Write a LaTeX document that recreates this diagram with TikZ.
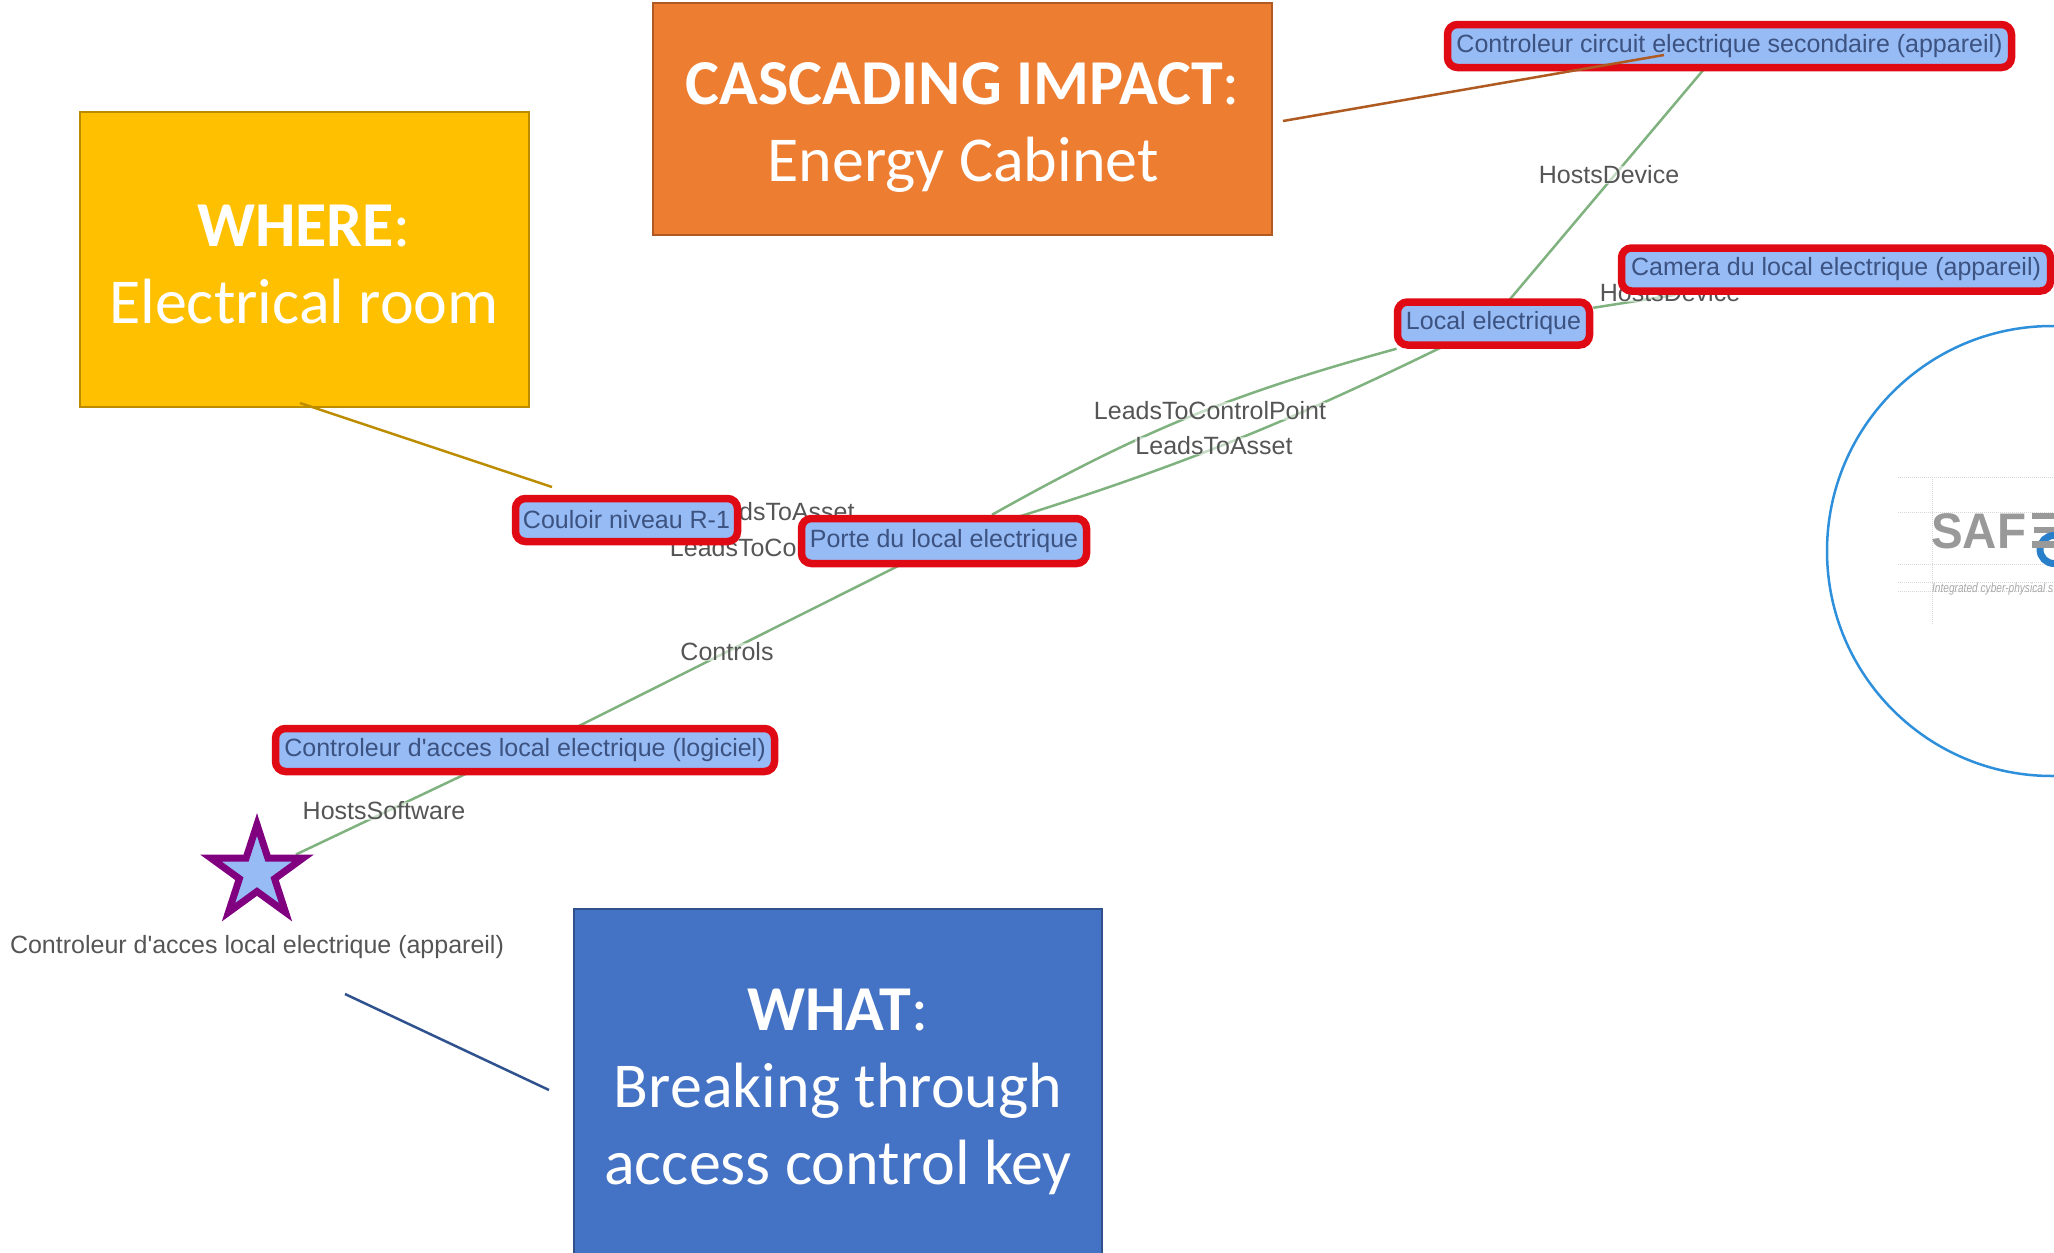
\documentclass[tikz,border=0pt]{standalone}
\usepackage{fontspec}
\setmainfont{Liberation Sans}
\newfontfamily\calloutfont{Carlito}
\usetikzlibrary{shapes.geometric,backgrounds}
\definecolor{nodefill}{HTML}{97BBF5}
\definecolor{noderim}{HTML}{E00A14}
\definecolor{nodetext}{HTML}{3C5280}
\definecolor{starrim}{HTML}{800080}
\definecolor{edgegreen}{HTML}{7FB27F}
\definecolor{labelgrey}{HTML}{555555}
\definecolor{whereface}{HTML}{FFC000}
\definecolor{whererim}{HTML}{BC8C00}
\definecolor{cascadeface}{HTML}{ED7D31}
\definecolor{cascaderim}{HTML}{AE5A21}
\definecolor{whatface}{HTML}{4472C4}
\definecolor{whatrim}{HTML}{2F528F}
\definecolor{ringblue}{HTML}{2E8FDB}
\definecolor{logogrey}{HTML}{999999}
\definecolor{logoblue}{HTML}{2A7FCB}
\definecolor{guidegrey}{HTML}{D6D6D6}
\tikzset{
  asset/.style={draw=noderim,fill=nodefill,text=nodetext,line width=7.5pt,rounded corners=10pt,
    inner sep=0pt,font=\fontsize{25}{30}\selectfont},
  rel/.style={text=labelgrey,inner sep=0pt,fill=white,fill opacity=0.55,text opacity=1,
    font=\fontsize{25}{30}\selectfont},
  rellink/.style={draw=edgegreen,line width=2.5pt},
  callout/.style={draw,line width=2pt},
  callouttxt/.style={text=white,align=center,inner sep=0pt,
    font=\calloutfont\fontsize{64}{77}\selectfont},
  guide/.style={draw=guidegrey,line width=1pt,densely dotted},
}
\begin{document}
\begin{tikzpicture}[x=1pt,y=-1pt]
\path[use as bounding box,clip] (0,0) rectangle (2054,1253);

\node[asset,minimum width=564pt,minimum height=43pt] (circuit) at (1729.5,46) {Controleur circuit electrique secondaire (appareil)};
\node[asset,minimum width=192pt,minimum height=43pt] (local) at (1493.5,323.5) {Local electrique};
\node[asset,minimum width=429pt,minimum height=43pt] (camera) at (1836,269.5) {Camera du local electrique (appareil)};
\node[asset,minimum width=222pt,minimum height=43pt] (couloir) at (626.5,520) {Couloir niveau R-1};
\node[asset,minimum width=285pt,minimum height=45pt] (porte) at (944,541) {Porte du local electrique};
\node[asset,minimum width=499pt,minimum height=43pt] (logiciel) at (525,750) {Controleur d\textquotesingle acces local electrique (logiciel)};
\node[star,star points=5,star point ratio=2.618,draw=starrim,fill=nodefill,line width=7pt,
  minimum size=97pt,inner sep=0pt] (appareil) at (257,873) {};
\node[rel,fill=none] (appareiltxt) at (257,947.5) {Controleur d\textquotesingle acces local electrique (appareil)};

\begin{scope}[on background layer]
\draw[rellink] (appareil) -- ([xshift=-9pt]logiciel.center);
\draw[rellink] ([xshift=6pt]logiciel.center) -- ([xshift=4pt]porte.center);
\draw[rellink] (porte) to[bend left=7] (local);
\draw[rellink] ([xshift=-5pt]porte.center) to[bend right=5] ([xshift=-4pt]local.center);
\draw[rellink] ([xshift=-4pt]local.center) -- ([xshift=-6pt]circuit.center);
\draw[rellink] (local) -- (camera);

\node[rel] (hosts1) at (1609,175) {HostsDevice};
\node[rel] (hosts2) at (1670,293) {HostsDevice};
\node[rel] (leads1) at (1210,411) {LeadsToControlPoint};
\node[rel] (leads2) at (1214,446) {LeadsToAsset};
\node[rel] (leads3) at (776,512) {LeadsToAsset};
\node[rel] (leads4) at (786,548) {LeadsToControlPoint};
\node[rel] (ctrl) at (727,652) {Controls};
\node[rel] (hostsw) at (384,811) {HostsSoftware};
\end{scope}

\node[callout,draw=whererim,fill=whereface,minimum width=449pt,minimum height=295pt] (where) at (304.5,259.5) {};
\node[callouttxt] (wheretxt) at (304,264) {\textbf{WHERE}:\\Electrical room};
\node[callout,draw=cascaderim,fill=cascadeface,minimum width=619pt,minimum height=232pt] (cascade) at (962.5,119) {};
\node[callouttxt] (cascadetxt) at (963,127.5) {\textbf{CASCADING IMPACT}:\\Energy Cabinet};
\node[callout,draw=whatrim,fill=whatface,minimum width=528pt,minimum height=392pt] (what) at (838,1105) {};
\node[callouttxt] (whattxt) at (838,1092) {\textbf{WHAT}:\\Breaking through\\access control key};

\coordinate (whereend) at (552,487);
\coordinate (wherestart) at (300,403);
\coordinate (cascadeend) at (1664,55);
\coordinate (cascadestart) at (1283,121);
\coordinate (whatend) at (345,994);
\coordinate (whatstart) at (549,1090);
\draw[whererim,line width=2.5pt] (wherestart) -- (whereend);
\draw[cascaderim,line width=2.5pt] (cascadestart) -- (cascadeend);
\draw[whatrim,line width=2.5pt] (whatstart) -- (whatend);

% logo inside the circle
\node[draw=ringblue,line width=2.5pt,circle,minimum size=450pt,inner sep=0pt] (ring) at (2052,551) {};
\draw[guide] (1898,477) -- (2054,477);
\draw[guide] (1898,512) -- (2054,512);
\draw[guide] (1898,564) -- (2054,564);
\draw[guide] (1898,582) -- (2054,582);
\draw[guide] (1898,591) -- (2054,591);
\draw[guide] (1932,477) -- (1932,625);
\node[anchor=base west,inner sep=0pt,text=logogrey,xscale=0.95,font=\fontsize{50}{50}\selectfont\bfseries] (saf) at (1931,548) {SAF};
\fill[logogrey] (2032,513) rectangle (2054,519);
\fill[logogrey] (2034,527) rectangle (2054,533);
\draw[logoblue,line width=7pt] (2054,549.5) circle (14);
\fill[logogrey] (2032,541) rectangle (2054,548);
\node[anchor=base west,inner sep=0pt,text=logogrey!85,xscale=0.78,font=\fontsize{13}{13}\selectfont\itshape] (tagline) at (1932,592) {Integrated cyber-physical s};
\end{tikzpicture}
\end{document}
